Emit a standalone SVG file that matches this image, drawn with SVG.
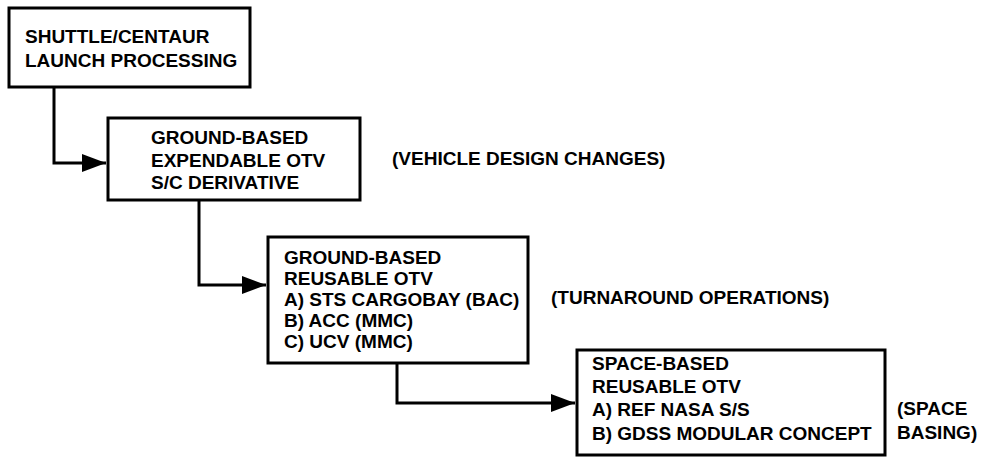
<svg xmlns="http://www.w3.org/2000/svg" width="986" height="457" viewBox="0 0 986 457">
<defs>
<style>
.box{fill:#fff;stroke:#000;stroke-width:3}
.t{font-family:"Liberation Sans",Arial,sans-serif;font-weight:bold;font-size:19px;fill:#000}
.c{fill:none;stroke:#000;stroke-width:3}
</style>
<marker id="ah" markerWidth="8" markerHeight="6" refX="8" refY="3" orient="auto" markerUnits="strokeWidth"><path d="M0,0 L8,3 L0,6 z" fill="#000"/></marker>
</defs>
<rect width="986" height="457" fill="#fff"/>
<g id="connectors">
<path class="c" d="M54,87 V163 H106" marker-end="url(#ah)"/>
<path class="c" d="M199,200 V285 H266" marker-end="url(#ah)"/>
<path class="c" d="M397,363 V403 H575" marker-end="url(#ah)"/>
</g>
<g id="n1">
<rect class="box" x="9" y="8" width="241" height="79"/>
<text class="t" x="25" y="43">SHUTTLE/CENTAUR</text>
<text class="t" x="25" y="67">LAUNCH PROCESSING</text>
</g>
<g id="n2">
<rect class="box" x="108" y="118" width="252" height="82"/>
<text class="t" x="151" y="144">GROUND-BASED</text>
<text class="t" x="151" y="167">EXPENDABLE OTV</text>
<text class="t" x="151" y="189">S/C DERIVATIVE</text>
</g>
<g id="n3">
<rect class="box" x="268" y="237" width="260" height="126"/>
<text class="t" x="284" y="264">GROUND-BASED</text>
<text class="t" x="284" y="285">REUSABLE OTV</text>
<text class="t" x="284" y="306">A) STS CARGOBAY (BAC)</text>
<text class="t" x="284" y="327">B) ACC (MMC)</text>
<text class="t" x="284" y="348">C) UCV (MMC)</text>
</g>
<g id="n4">
<rect class="box" x="577" y="350" width="308" height="105"/>
<text class="t" x="592" y="370">SPACE-BASED</text>
<text class="t" x="592" y="393">REUSABLE OTV</text>
<text class="t" x="592" y="416">A) REF NASA S/S</text>
<text class="t" x="592" y="440">B) GDSS MODULAR CONCEPT</text>
</g>
<g id="labels">
<text class="t" x="392" y="165">(VEHICLE DESIGN CHANGES)</text>
<text class="t" x="551" y="304">(TURNAROUND OPERATIONS)</text>
<text class="t" x="897" y="415">(SPACE</text>
<text class="t" x="897" y="439">BASING)</text>
</g>
</svg>
